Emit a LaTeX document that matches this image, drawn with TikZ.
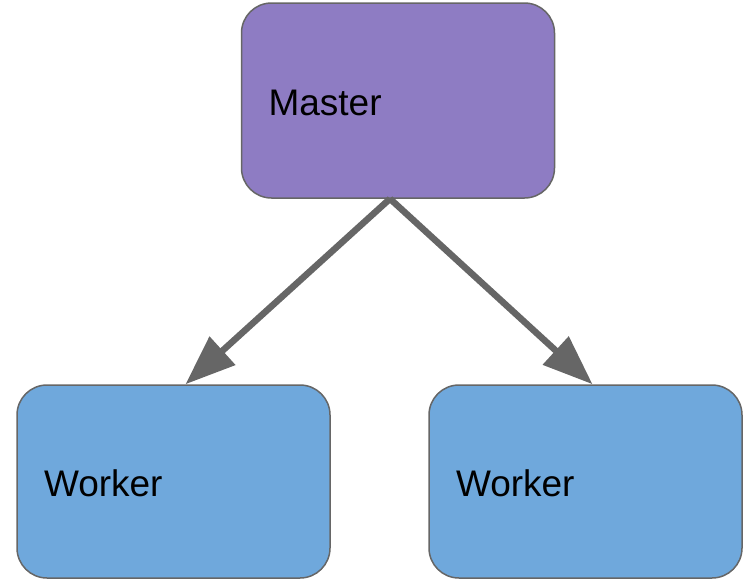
\documentclass[tikz,border=0pt]{standalone}
\usepackage{fontspec}
\setmainfont{Liberation Sans}
\usetikzlibrary{arrows.meta}

\definecolor{masterfill}{HTML}{8E7CC3}
\definecolor{workerfill}{HTML}{6FA8DC}
\definecolor{edgegray}{HTML}{666666}

\begin{document}
\begin{tikzpicture}[
		x=1pt, y=-1pt,
		every node/.style={rectangle, rounded corners=30pt, draw=edgegray, line width=1.5pt,
			align=left, text width=259pt, inner xsep=27pt, inner ysep=0pt,
			text height=30pt, text depth=0pt,
			font=\fontsize{37}{44}\selectfont},
		masterbox/.style={fill=masterfill, minimum height=195pt},
		workerbox/.style={fill=workerfill, minimum height=193pt},
		link/.style={draw=edgegray, line width=6.5pt, -{Triangle[length=50pt, width=37pt]}}
	]
  \useasboundingbox (0, 0) rectangle (749, 581);
  \node (master) [masterbox] at (398, 100.5) {Master};
  \node (worker_l) [workerbox] at (173.5, 481.5) {Worker};
  \node (worker_r) [workerbox] at (585.5, 481.5) {Worker};
  \draw [link] ([xshift=-8pt]master.south) -- ([xshift=12pt]worker_l.north);
  \draw [link] ([xshift=-8pt]master.south) -- ([xshift=7pt]worker_r.north);
\end{tikzpicture}
\end{document}
